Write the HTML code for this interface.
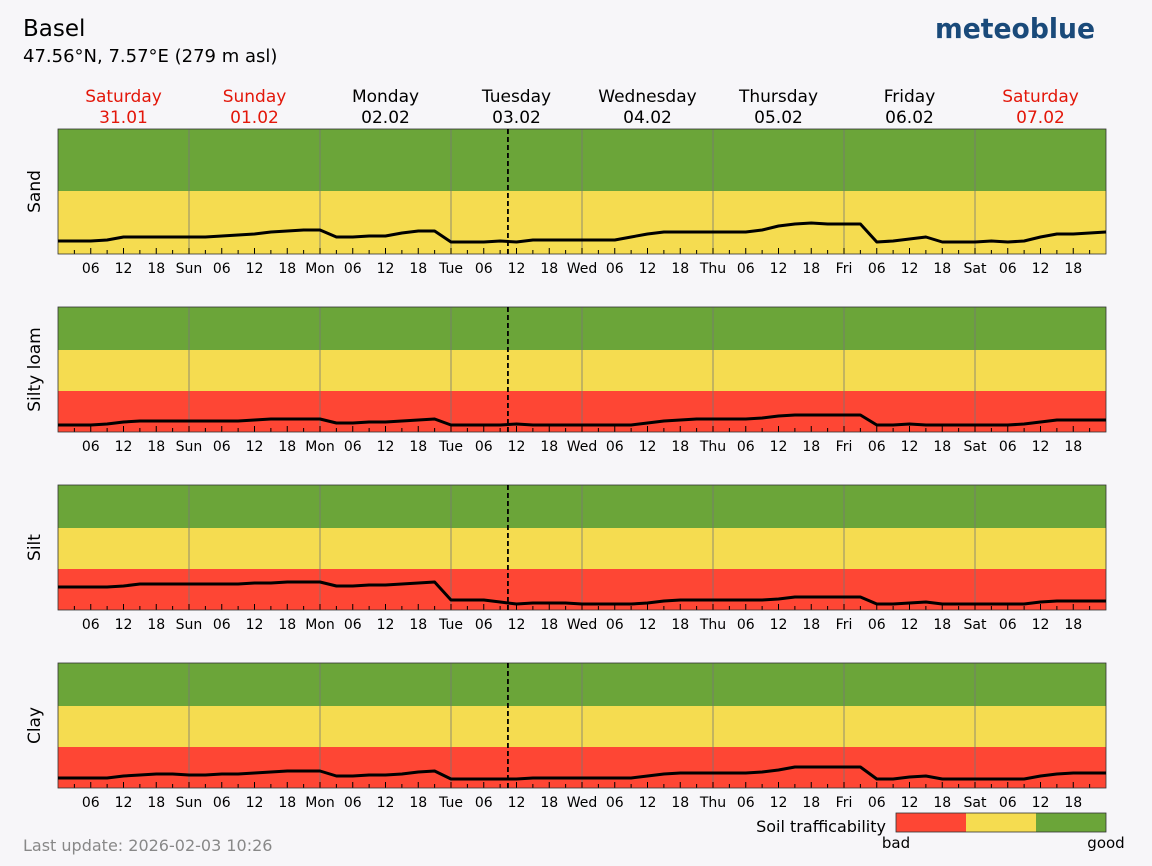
<!DOCTYPE html>
<html><head><meta charset="utf-8">
<style>
body{margin:0;background:#f7f6f9;font-family:"Liberation Sans","DejaVu Sans",sans-serif;}
svg{display:block}
</style></head>
<body>
<svg id="chart" width="1152" height="866" xmlns="http://www.w3.org/2000/svg" font-family="DejaVu Sans, Liberation Sans, sans-serif">
<rect width="1152" height="866" fill="#f7f6f9"/>
<text x="23" y="36" font-size="23" fill="#000">Basel</text>
<text x="23" y="62" font-size="18" fill="#000">47.56°N, 7.57°E (279 m asl)</text>
<text x="935" y="38" font-size="28" font-weight="bold" fill="#1a4a7a" textLength="160" lengthAdjust="spacingAndGlyphs">meteoblue</text>
<text x="23" y="851" font-size="16" fill="#888">Last update: 2026-02-03 10:26</text>
<g id="days"></g>
<g id="panels"></g>
<g>
<text x="886" y="832" font-size="16" text-anchor="end" fill="#000">Soil trafficability</text>
<rect x="896" y="813" width="70" height="19" fill="#fe4634"/>
<rect x="966" y="813" width="70" height="19" fill="#f5dc50"/>
<rect x="1036" y="813" width="70" height="19" fill="#6ba539"/>
<rect x="896" y="813" width="210" height="19" fill="none" stroke="#333" stroke-width="0.8"/>
<text x="896" y="848" font-size="15" text-anchor="middle">bad</text>
<text x="1106" y="848" font-size="15" text-anchor="middle">good</text>
</g>
</svg>
<script>
const dayNames=["Saturday","Sunday","Monday","Tuesday","Wednesday","Thursday","Friday","Saturday"];
const dayDates=["31.01","01.02","02.02","03.02","04.02","05.02","06.02","07.02"];
const dayWeekend=[true,true,false,false,false,false,false,true];
const shortDays=["Sat","Sun","Mon","Tue","Wed","Thu","Fri","Sat"];
const panelNames=["Sand","Silty loam","Silt","Clay"];
// class thresholds (index units, 0..125): [red/yellow, yellow/green]
const redTop=[0,41,41,41];
const yellowTop=[63,82,82,82];
const nowHour=82.43;
// values every 3 hours starting Sat 00:00 (index 0..125)
const sand=[13,13,13,14,17,17,17,17, 17,17,18,19,20,22,23,24, 24,17,17,18,18,21,23,23, 12,12,12,13,12,14,14,14, 14,14,14,17,20,22,22,22, 22,22,22,24,28,30,31,30, 30,30,12,13,15,17,12,12, 12,13,12,13,17,20,20,21,22];
const siltyLoam=[7,7,7,8,10,11,11,11, 11,11,11,11,12,13,13,13, 13,9,9,10,10,11,12,13, 7,7,7,7,8,7,7,7, 7,7,7,7,9,11,12,13, 13,13,13,14,16,17,17,17, 17,17,7,7,8,7,7,7, 7,7,7,8,10,12,12,12,12];
const silt=[23,23,23,23,24,26,26,26, 26,26,26,26,27,27,28,28, 28,24,24,25,25,26,27,28, 10,10,10,8,6,7,7,7, 6,6,6,6,7,9,10,10, 10,10,10,10,11,13,13,13, 13,13,6,6,7,8,6,6, 6,6,6,6,8,9,9,9,9];
const clay=[10,10,10,10,12,13,14,14, 13,13,14,14,15,16,17,17, 17,12,12,13,13,14,16,17, 9,9,9,9,9,10,10,10, 10,10,10,10,12,14,15,15, 15,15,15,16,18,21,21,21, 21,21,9,9,11,12,9,9, 9,9,9,9,12,14,15,15,15];
const series=[sand,siltyLoam,silt,clay];
const panelTops=[129,307,485,663];
const X0=58,X1=1106,PH=125,VMAX=125;
const NS="http://www.w3.org/2000/svg";
function xOf(h){return X0+h*(X1-X0)/192;}
function yOf(p,v){return panelTops[p]+PH-v*PH/VMAX;}
function mk(tag,attrs,parent){const e=document.createElementNS(NS,tag);for(const k in attrs)e.setAttribute(k,attrs[k]);parent.appendChild(e);return e;}
const daysG=document.getElementById('days');
dayNames.forEach((d,i)=>{
  const cx=xOf(i*24+12),col=dayWeekend[i]?"#e3170a":"#000";
  const t=mk('text',{x:cx,y:102,"font-size":17,"text-anchor":"middle",fill:col},daysG);
  
  
  t.textContent=d;
  const t2=mk('text',{x:cx,y:123,"font-size":17,"text-anchor":"middle",fill:col},daysG);
  
  
  t2.textContent=dayDates[i];
});
const pG=document.getElementById('panels');
panelNames.forEach((name,p)=>{
  const g=mk('g',{},pG);
  
  
  const top=panelTops[p];
  const gr=mk('rect',{x:X0,y:top,width:X1-X0,height:yOf(p,yellowTop[p])-top,fill:"#6ba539"},g);
  
  
  const ye=mk('rect',{x:X0,y:yOf(p,yellowTop[p]),width:X1-X0,height:yOf(p,redTop[p])-yOf(p,yellowTop[p]),fill:"#f5dc50"},g);
  
  
  if(redTop[p]>0){const r=mk('rect',{x:X0,y:yOf(p,redTop[p]),width:X1-X0,height:yOf(p,0)-yOf(p,redTop[p]),fill:"#fe4634"},g);
  
  }
  for(let d=1;d<8;d++)mk('line',{x1:xOf(d*24),x2:xOf(d*24),y1:top,y2:top+PH,stroke:"#777","stroke-width":0.8},g);
  for(let h=3;h<192;h+=3){const len=(h%6==0)?6:4;mk('line',{x1:xOf(h),x2:xOf(h),y1:top+PH-len,y2:top+PH,stroke:"#000","stroke-width":1},g);}
  for(let h=6;h<192;h+=6){
    const lbl=(h%24==0)?shortDays[h/24]:String(h%24).padStart(2,'0');
    const t=mk('text',{x:xOf(h),y:top+PH+19,"font-size":14,"text-anchor":"middle"},g);
    
    
    t.textContent=lbl;
  }
  mk('rect',{x:X0,y:top,width:X1-X0,height:PH,fill:"none",stroke:"#333","stroke-width":0.8},g);
  mk('line',{x1:xOf(nowHour),x2:xOf(nowHour),y1:top,y2:top+PH,stroke:"#000","stroke-width":1.8,"stroke-dasharray":"5,3"},g);
  const pts=series[p].map((v,i)=>xOf(i*3).toFixed(1)+","+yOf(p,v).toFixed(1)).join(" ");
  const l=mk('polyline',{points:pts,fill:"none",stroke:"#000","stroke-width":3,"stroke-linejoin":"round"},g);
  
  
  const yl=mk('text',{x:0,y:0,"font-size":17,"text-anchor":"middle",transform:`translate(40,${top+PH/2}) rotate(-90)`},g);
  
  
  yl.textContent=name;
});
</script>
</body></html>
